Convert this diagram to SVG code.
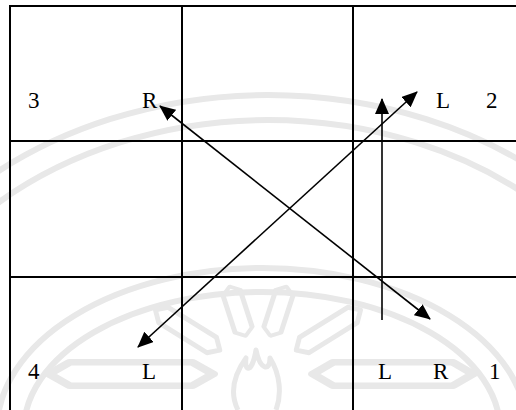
<svg xmlns="http://www.w3.org/2000/svg" width="516" height="410" viewBox="0 0 516 410">
  <defs>
    <style>
      .wm { fill: none; stroke: #e8e8e8; stroke-width: 6; }
      .wmt { fill: none; stroke: #e8e8e8; stroke-width: 5; stroke-linejoin: round; }
      .grid { stroke: #000; stroke-width: 2; fill: none; }
      .conn { stroke: #000; stroke-width: 1.6; fill: none; }
      .lbl { font-family: "Liberation Serif", "Times New Roman", serif; font-size: 23px; fill: #000; }
    </style>
    <marker id="ah" viewBox="0 0 16 14" markerUnits="userSpaceOnUse" markerWidth="16" markerHeight="14" refX="15" refY="7" orient="auto-start-reverse">
      <path d="M0,0 L16,7 L0,14 z" fill="#000"/>
    </marker>
    <polygon id="petal" points="0,0 10,-9 70,-9 80,0 70,9 10,9"/>
  </defs>
  <rect x="0" y="0" width="516" height="410" fill="#fff"/>

  <!-- faint watermark -->
  <g id="watermark">
    <ellipse class="wm" cx="268" cy="440" rx="430" ry="345"/>
    <ellipse class="wm" cx="268" cy="440" rx="402" ry="320"/>
    <ellipse class="wm" cx="262" cy="430" rx="265" ry="162"/>
    <ellipse class="wm" cx="262" cy="430" rx="238" ry="138"/>
    <g transform="translate(258,374)">
      <use href="#petal" class="wmt" transform="rotate(180) translate(45,0) scale(2.05,1.3)"/>
      <use href="#petal" class="wmt" transform="translate(55,0) scale(2.0,1.3)"/>
      <use href="#petal" class="wmt" transform="rotate(-148) translate(45,0) scale(0.95,1)"/>
      <use href="#petal" class="wmt" transform="rotate(-32) translate(45,0) scale(0.95,1)"/>
      <use href="#petal" class="wmt" transform="rotate(-108) translate(40,0) scale(0.65,1)"/>
      <use href="#petal" class="wmt" transform="rotate(-72) translate(40,0) scale(0.65,1)"/>
    </g>
    <path class="wmt" d="M238,410 C228,390 236,372 246,358 C244,372 252,374 256,350 C260,370 270,372 270,358 C280,374 282,394 276,410"/>
  </g>

  <!-- grid -->
  <g id="grid" class="grid">
    <line x1="10" y1="6" x2="516" y2="6"/>
    <line x1="10" y1="141" x2="516" y2="141"/>
    <line x1="10" y1="277" x2="516" y2="277"/>
    <line x1="10" y1="5" x2="10" y2="410"/>
    <line x1="182" y1="6" x2="182" y2="410"/>
    <line x1="353" y1="6" x2="353" y2="410"/>
  </g>

  <!-- connectors -->
  <g id="connectors" class="conn">
    <line x1="160" y1="106" x2="430" y2="319" marker-start="url(#ah)" marker-end="url(#ah)"/>
    <line x1="138" y1="347" x2="417" y2="92" marker-start="url(#ah)" marker-end="url(#ah)"/>
    <line x1="382" y1="320" x2="382" y2="99" marker-end="url(#ah)"/>
  </g>

  <!-- labels -->
  <g id="cell-3"><text class="lbl" x="28" y="108">3</text></g>
  <g id="cell-3-R"><text class="lbl" x="142" y="108">R</text></g>
  <g id="cell-2-L"><text class="lbl" x="436" y="108">L</text></g>
  <g id="cell-2"><text class="lbl" x="486" y="108">2</text></g>
  <g id="cell-4"><text class="lbl" x="28" y="379">4</text></g>
  <g id="cell-4-L"><text class="lbl" x="142" y="379">L</text></g>
  <g id="cell-1-L"><text class="lbl" x="378" y="379">L</text></g>
  <g id="cell-1-R"><text class="lbl" x="433" y="379">R</text></g>
  <g id="cell-1"><text class="lbl" x="489" y="379">1</text></g>
</svg>
